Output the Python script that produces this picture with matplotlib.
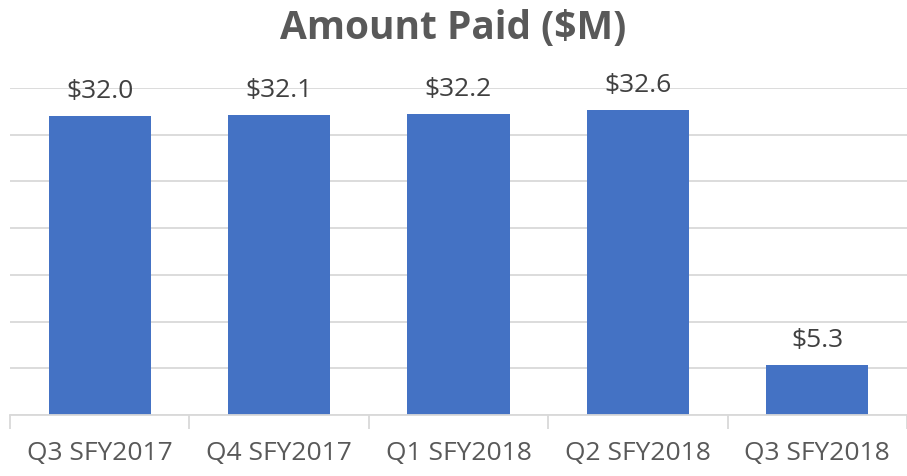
import numpy as np
import matplotlib.pyplot as plt

# quarterly amounts paid, in millions
quarters = ["Q3 SFY2017", "Q4 SFY2017", "Q1 SFY2018", "Q2 SFY2018", "Q3 SFY2018"]
amount_paid = [32.0, 32.1, 32.2, 32.6, 5.3]

BAR_COLOR = "#4472C4"
GRID_COLOR = "#D9D9D9"
TEXT_COLOR = "#595959"
LABEL_COLOR = "#404040"

plt.rcParams["font.family"] = ["Open Sans", "DejaVu Sans"]

fig = plt.figure(figsize=(9.07, 4.76), dpi=100)
ax = fig.add_axes([10 / 907, 61 / 476, 897 / 907, 327 / 476])

x = np.arange(len(quarters))
bars = ax.bar(x, amount_paid, width=0.57, color=BAR_COLOR, zorder=3)

for rect, v in zip(bars, amount_paid):
    ax.annotate(f"${v:.1f}", (rect.get_x() + rect.get_width() / 2, v),
                xytext=(0, 9), textcoords="offset points",
                ha="center", va="bottom", fontsize=19, color=LABEL_COLOR,
                zorder=4)

ax.set_xlim(-0.5, len(quarters) - 0.5)
ax.set_ylim(0, 35)
ax.set_yticks(np.arange(0, 36, 5))
ax.yaxis.grid(True, color=GRID_COLOR, linewidth=1.3, zorder=0)
ax.tick_params(axis="y", left=False, labelleft=False)

# category ticks sit on the boundaries between bars
ax.set_xticks(x)
ax.set_xticklabels(quarters, fontsize=19, color=TEXT_COLOR)
ax.tick_params(axis="x", length=0, pad=19)
ax.set_xticks(np.arange(-0.5, len(quarters), 1), minor=True)
ax.tick_params(axis="x", which="minor", length=10, width=1.3, color=GRID_COLOR)

for side in ["top", "right", "left"]:
    ax.spines[side].set_visible(False)
ax.spines["bottom"].set_color(GRID_COLOR)
ax.spines["bottom"].set_linewidth(1.3)
ax.spines["bottom"].set_zorder(3)

fig.text(0.5, 1 - 28 / 476, "Amount Paid ($M)", ha="center", va="center",
         fontsize=28, fontweight="bold", color=TEXT_COLOR)

fig.savefig("out.png", dpi=100)
